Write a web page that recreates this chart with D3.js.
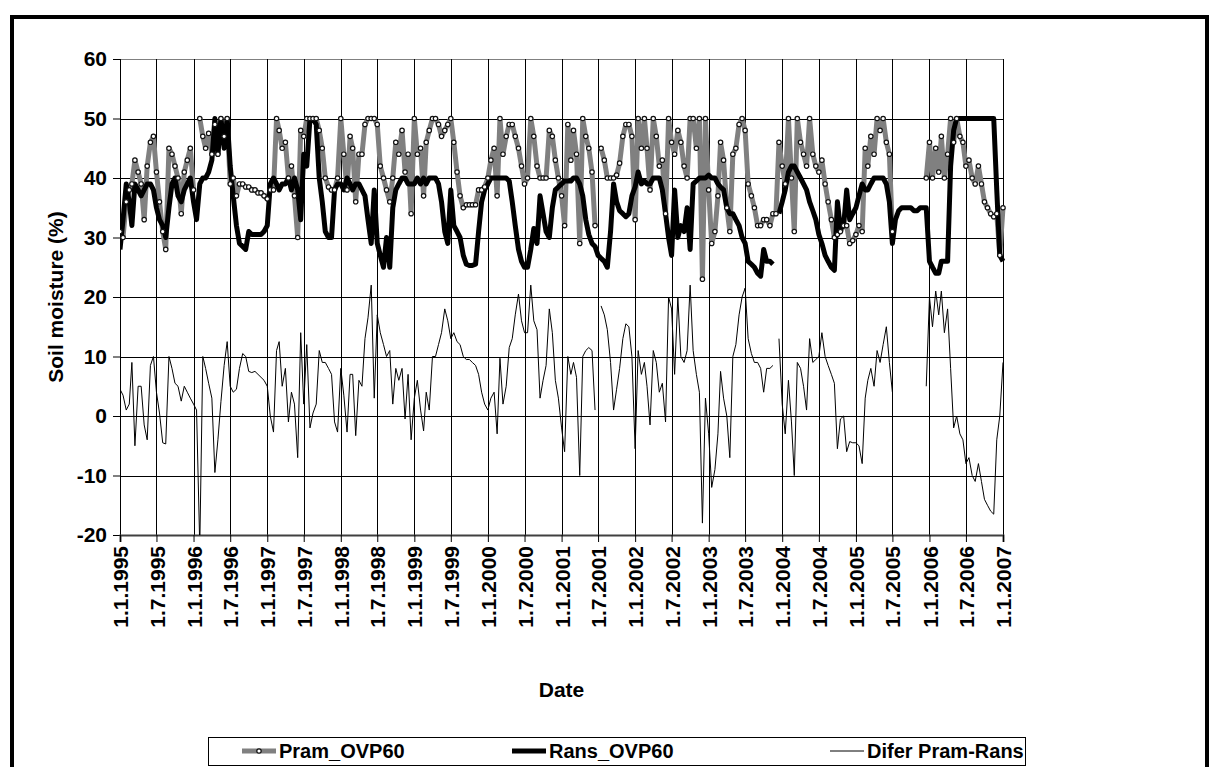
<!DOCTYPE html>
<html>
<head>
<meta charset="utf-8">
<script src="https://cdn.jsdelivr.net/npm/d3@7"></script>
<style>
  body { margin: 0; background: #fff; }
  svg { display: block; font-family: "Liberation Sans", Arial, sans-serif; font-weight: bold; }
</style>
</head>
<body>
<div id="chart"></div>
<script>
// y axis ticks and x axis tick labels (half-year dates)
const yTicks = [-20, -10, 0, 10, 20, 30, 40, 50, 60];
const xTickLabels = [
  "1.1.1995", "1.7.1995", "1.1.1996", "1.7.1996", "1.1.1997", "1.7.1997",
  "1.1.1998", "1.7.1998", "1.1.1999", "1.7.1999", "1.1.2000", "1.7.2000",
  "1.1.2001", "1.7.2001", "1.1.2002", "1.7.2002", "1.1.2003", "1.7.2003",
  "1.1.2004", "1.7.2004", "1.1.2005", "1.7.2005", "1.1.2006", "1.7.2006",
  "1.1.2007"
];
const seriesNames = ["Pram_OVP60", "Rans_OVP60", "Difer Pram-Rans"];

// values, one per half month (1st and 16th), 1.1.1995 .. 1.1.2007
// each row = half a year
const pram = [
  31, 30, 36, 38, 39, 43, 41, 39, 33, 42, 46, 47,
  41, 36, 31, 28, 45, 44, 42, 40, 34, 41, 43, 45,
  38, null, 50, 47, 45, 47.5, 44, 49, 44, 50, 47, 50,
  39, 40, 37, 39, 39, 38.5, 38.5, 38, 38, 37.5, 37.5, 37,
  36.5, 38, 38, 50, 48, 45, 46, 40, 42, 37, 30, 48,
  47, 50, 50, 50, 50, 48, 45, 40, 38.5, 38, 38, 40,
  50, 44, 38, 47, 45, 36, 44, 44, 49, 50, 50, 50,
  49, 42, 40, 38, 36, 40, 46, 44, 48, 41, 44, 34,
  50, 44, 45, 37, 46, 48, 50, 50, 49, 47, 48, 49,
  50, 46, 41, 37, 35, 35.5, 35.5, 35.5, 35.5, 38, 38, 38.5,
  40, 43, 45, 37, 50, 44, 47, 49, 49, 47, 45, 42,
  39, 40, 50, 47, 42, 40, 40, 40, 48, 47, 43, 40,
  37, 32, 49, 43, 48, 44, 29, 50, 47, 45, 41, 32,
  null, 45, 43, 40, 40, 40, 40.5, 42.5, 47, 49, 49, 47,
  33, 50, 45, 50, 45, 38, 50, 47, 42, 43, 34, 50,
  46, 44, 48, 46, 42, 40, 50, 50, 45, 50, 23, 50,
  38, 29, 31, 37, 46, 43, 35, 31, 44, 45, 49, 50,
  48, 39, 37, 35, 32, 32, 33, 33, 32, 34, 34, 46,
  42, 39, 50, 40, 31, 50, 46, 44, 42, 50, 44, 42,
  41, 43, 39, 36, 33, 30, 30.5, 31, 32, 32, 29, 29.5,
  30.5, 32, 31, 45, 42, 47, 44, 50, 48, 50, 46, 44,
  31, null, null, null, null, null, null, null, null, null, null, 40,
  46, 40, 45, 41, 47, 40, 44, 50, 46, 50, 47, 46,
  42, 43, 40, 39, 42, 39, 36, 35, 34, 33.5, 34, 27,
  35
];
const rans = [
  28, 33, 39, 36, 32, 39, 38, 37, 38, 39, 39, 38,
  35, 33, 32, 30, 35, 39, 40, 37, 36, 38, 39, 40,
  36, 33, 39, 40, 40, 41, 43, 50, 44, 50, 45, 50,
  42, 37, 32, 29, 28.5, 28, 31, 30.5, 30.5, 30.5, 30.5, 31,
  32, 39, 40, 39, 38, 39, 39, 40, 38, 40, 38, 33,
  44, 42, 50, 50, 49, 40, 36, 31, 30, 30, 38, 39,
  39, 38, 40, 39, 38, 39, 39, 38, 37, 33, 29, 38,
  29, 27, 25, 30, 25, 35, 38, 39, 40, 40, 39, 39,
  39, 40, 39, 40, 39, 40, 40, 40, 39, 36, 31, 29,
  38, 32, 31, 30, 27, 25.5, 25.3, 25.3, 25.5, 31, 36, 38,
  39, 40, 40, 40, 40, 40, 40, 39.5, 36, 32, 28, 26,
  25, 25, 28, 31.5, 29, 37, 34, 31, 30, 35, 38, 38.5,
  39, 39.5, 39.5, 39.5, 40, 40, 39, 37, 33, 30.5, 29, 28.5,
  27, 26.5, 26, 25, 31, 39, 36, 34.5, 34, 33.5, 34, 37,
  38.5, 41, 39, 39.5, 39, 39, 40, 40, 40, 38, 34, 30,
  27, 38, 30, 32, 31, 35, 28, 39, 39.5, 40, 40, 40,
  40.5, 40, 40, 39, 38.5, 38, 35, 34, 34, 33, 32, 30,
  29, 26, 25.5, 25, 24, 23.5, 28, 26, 26, 25.5, null, 34,
  36, 38, 41, 42, 42, 41, 40, 39, 38, 36, 34.5, 33,
  30.5, 29, 27, 26, 25, 24.5, 36, 31.5, 32, 38, 33, 34,
  35, 37, 39, 38, 38, 39, 40, 40, 40, 40, 39, 36,
  29, 33, 34.5, 35, 35, 35, 35, 34.5, 34.5, 35, 35, 35,
  26, 25, 24, 24, 26, 26, 26, 42, 48, 50, 50, 50,
  50, 50, 50, 50, 50, 50, 50, 50, 50, 50, 38, 27,
  26
];
const difer = [
  4.5, 3.5, 1, 2, 9, -5, 5, 5, -1.5, -4, 8.5, 10,
  4, 0.5, -4.5, -4.7, 10, 8, 5.5, 5, 2.5, 5, 4, 3,
  2, 1, -22, 10, 8, 5.5, 3, -9.5, -4, 2.4, 8.5, 12.5,
  5, 4, 4.5, 8, 10.5, 10, 7.5, 7.3, 7.5, 7, 6.5, 6,
  5, 0, -2.7, 11, 12.5, 5, 8, -1, 4, 2, -7, 14,
  2, 12, -2, 0.5, 2, 11, 9, 9, 8, 7, -1, -2.7,
  8, 3.5, -2.7, 7, 7, -3.3, 6, 5, 13, 16.5, 22, 3,
  17, 14, 12, 10, 11, 2, 8, 6, 8, -0.5, 7, -4,
  3, 6, 1, -2.5, 4, 1, 10, 10, 12, 14, 18, 16,
  13, 14, 12.5, 12, 10, 9.5, 9.5, 9, 8.5, 7, 4, 2,
  1, 3, 4, -3, 9.7, 2, 5, 11.5, 13, 17, 20.5, 16,
  14, 14, 22, 16, 14.5, 3, 6, 8.5, 18, 14, 6, 3,
  -2, -6, 10, 7, 9, 6.5, -10, 10, 11, 11.5, 11, 1,
  null, 18.5, 17, 14.5, 9, 1, 4.5, 8, 13, 15.5, 15, 10,
  -5.5, 11, 7, 9, 5, -1.5, 11, 9, 4, 5.5, -1, 20,
  18, 7, 20, 10, 9, 11, 22, 11, 7, 4, -18, 3,
  -3, -12, -9, -3, 7.5, 3, 0, -7, 10, 12, 17, 20,
  21.5, 13, 10.5, 9, 9, 8, 4, 8, 8, 8.5, null, 13,
  2, -3, 6, -1, -10, 9, 8, 5, 1, 13, 9, 9.5,
  10, 14, 10, 8.5, 7, 5.5, -5.5, -0.5, 0, -6, -4.3, -4.5,
  -4.5, -5, -8, 3, 6, 8, 5, 11, 9, 12, 15, 9,
  4, null, null, null, null, null, null, null, null, null, null, 5,
  20, 15, 21, 17, 21, 14, 18, 8, -2, 0, -3, -4,
  -8, -7, -10, -11, -8, -11, -14, -15, -16, -16.5, -4, 0,
  9
];

// half-month sample dates matching the value arrays
const sampleDates = [];
for (let yr = 1995; yr <= 2006; yr++) {
  for (let m = 0; m < 12; m++) {
    sampleDates.push(new Date(Date.UTC(yr, m, 1)));
    sampleDates.push(new Date(Date.UTC(yr, m, 16)));
  }
}
sampleDates.push(new Date(Date.UTC(2007, 0, 1)));

const parseTick = d3.utcParse("%d.%m.%Y");
const xTickDates = xTickLabels.map(parseTick);

const W = 1213, H = 767;
const plot = { left: 120, right: 1003, top: 59, bottom: 535 };
const fontSize = 21;

const svg = d3.select("#chart").append("svg")
  .attr("width", W)
  .attr("height", H);

// outer chart border
svg.append("rect")
  .attr("x", 12).attr("y", 17)
  .attr("width", 1195).attr("height", 800)
  .attr("fill", "none")
  .attr("stroke", "#000")
  .attr("stroke-width", 4);

const x = d3.scaleUtc()
  .domain([xTickDates[0], xTickDates[xTickDates.length - 1]])
  .range([plot.left, plot.right]);
const y = d3.scaleLinear()
  .domain([-20, 60])
  .range([plot.bottom, plot.top]);

// gridlines
const grid = svg.append("g");
grid.selectAll("line.h")
  .data(yTicks.filter(v => v > -20))
  .enter().append("line")
  .attr("x1", plot.left).attr("x2", plot.right)
  .attr("y1", d => Math.round(y(d)) + 0.5)
  .attr("y2", d => Math.round(y(d)) + 0.5)
  .attr("stroke", d => d === 60 ? "#808080" : "#000")
  .attr("stroke-width", 1);
grid.selectAll("line.v")
  .data(xTickDates)
  .enter().append("line")
  .attr("x1", d => Math.round(x(d)) + 0.5)
  .attr("x2", d => Math.round(x(d)) + 0.5)
  .attr("y1", plot.top).attr("y2", plot.bottom)
  .attr("stroke", "#000")
  .attr("stroke-width", 1);

// axes
const yAxis = svg.append("g")
  .attr("transform", `translate(${plot.left},0)`)
  .call(d3.axisLeft(y).tickValues(yTicks).tickSize(7).tickPadding(6)
    .tickFormat(d => String(d)));
yAxis.select(".domain").remove();
yAxis.selectAll("text")
  .attr("font-size", fontSize)
  .attr("font-family", "Liberation Sans, Arial, sans-serif")
  .attr("font-weight", "bold")
  .attr("fill", "#000");

const xAxis = svg.append("g")
  .attr("transform", `translate(0,${plot.bottom})`)
  .call(d3.axisBottom(x).tickValues(xTickDates).tickSize(7)
    .tickFormat((d, i) => xTickLabels[i]));
xAxis.select(".domain")
  .attr("stroke", "#404040")
  .attr("stroke-width", 2);
xAxis.selectAll("text")
  .attr("font-size", fontSize)
  .attr("font-family", "Liberation Sans, Arial, sans-serif")
  .attr("font-weight", "bold")
  .attr("fill", "#000")
  .attr("text-anchor", "end")
  .attr("transform", "translate(0,11) rotate(-90)")
  .attr("x", 0).attr("y", 0)
  .attr("dy", "0.36em");

// axis titles
svg.append("text")
  .attr("transform", `translate(56,${(plot.top + plot.bottom) / 2}) rotate(-90)`)
  .attr("text-anchor", "middle")
  .attr("dy", "0.35em")
  .attr("font-size", fontSize)
  .text("Soil moisture (%)");
svg.append("text")
  .attr("x", (plot.left + plot.right) / 2)
  .attr("y", 690)
  .attr("text-anchor", "middle")
  .attr("dy", "0.35em")
  .attr("font-size", fontSize)
  .text("Date");

// series
svg.append("clipPath").attr("id", "clip")
  .append("rect")
  .attr("x", plot.left).attr("y", plot.top - 4)
  .attr("width", plot.right - plot.left + 4)
  .attr("height", plot.bottom - plot.top + 4);

const toPoints = arr => arr.map((v, i) => ({ date: sampleDates[i], v: v }));
const line = d3.line()
  .defined(d => d.v != null)
  .x(d => x(d.date))
  .y(d => y(d.v));

const series = svg.append("g").attr("clip-path", "url(#clip)");

series.append("path")
  .datum(toPoints(pram))
  .attr("d", line)
  .attr("fill", "none")
  .attr("stroke", "#808080")
  .attr("stroke-width", 5)
  .attr("stroke-linejoin", "round");

series.append("path")
  .datum(toPoints(rans))
  .attr("d", line)
  .attr("fill", "none")
  .attr("stroke", "#000")
  .attr("stroke-width", 5)
  .attr("stroke-linejoin", "round");

series.selectAll("circle.pram")
  .data(toPoints(pram).filter(d => d.v != null))
  .enter().append("circle")
  .attr("cx", d => x(d.date))
  .attr("cy", d => y(d.v))
  .attr("r", 2.2)
  .attr("fill", "#fff")
  .attr("stroke", "#111")
  .attr("stroke-width", 1.2);

series.append("path")
  .datum(toPoints(difer))
  .attr("d", line)
  .attr("fill", "none")
  .attr("stroke", "#000")
  .attr("stroke-width", 1);

// legend
const legend = svg.append("g");
legend.append("rect")
  .attr("x", 208.5).attr("y", 737.5)
  .attr("width", 817).attr("height", 28)
  .attr("fill", "#fff")
  .attr("stroke", "#000")
  .attr("stroke-width", 1);

const legendX = [242, 512, 830];
const ly = 751;
legend.append("line")
  .attr("x1", legendX[0]).attr("x2", legendX[0] + 34)
  .attr("y1", ly).attr("y2", ly)
  .attr("stroke", "#808080").attr("stroke-width", 5);
legend.append("circle")
  .attr("cx", legendX[0] + 17).attr("cy", ly).attr("r", 2.2)
  .attr("fill", "#fff").attr("stroke", "#111").attr("stroke-width", 1.2);
legend.append("line")
  .attr("x1", legendX[1]).attr("x2", legendX[1] + 34)
  .attr("y1", ly).attr("y2", ly)
  .attr("stroke", "#000").attr("stroke-width", 5);
legend.append("line")
  .attr("x1", legendX[2]).attr("x2", legendX[2] + 34)
  .attr("y1", ly).attr("y2", ly)
  .attr("stroke", "#000").attr("stroke-width", 1);

legend.selectAll("text")
  .data(seriesNames)
  .enter().append("text")
  .attr("x", (d, i) => legendX[i] + 37)
  .attr("y", ly)
  .attr("dy", "0.36em")
  .attr("font-size", 20)
  .text(d => d);
</script>
</body>
</html>
